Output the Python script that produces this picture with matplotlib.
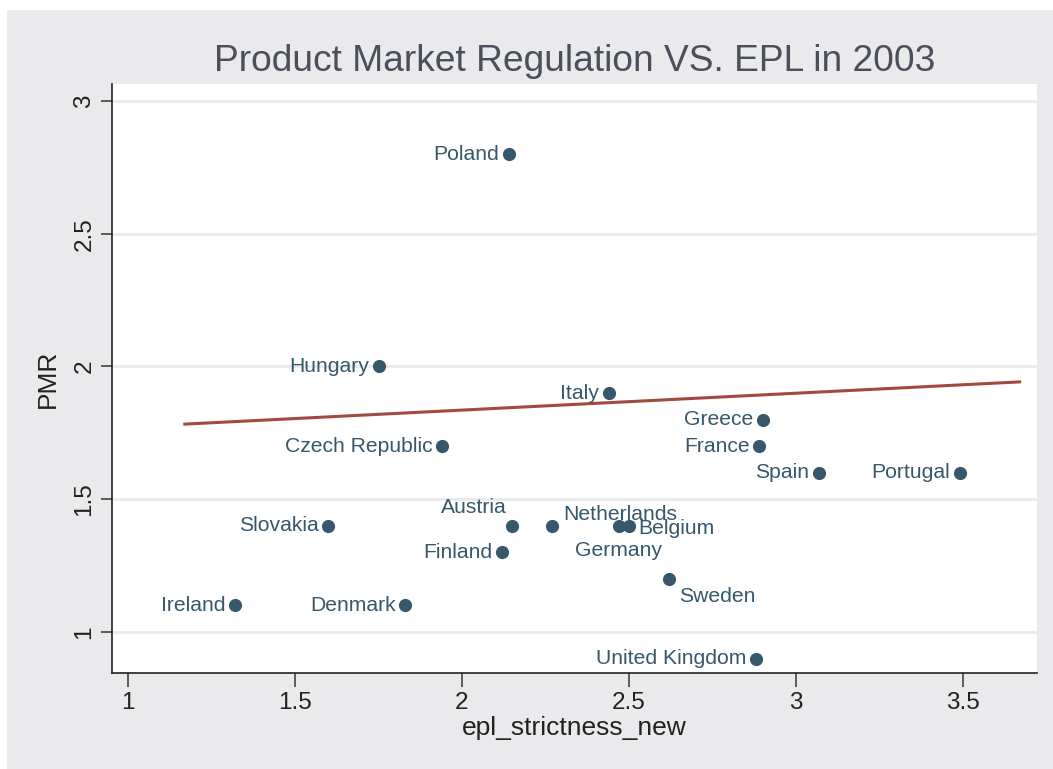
import matplotlib
matplotlib.use('Agg')
from matplotlib import pyplot as plt
from matplotlib.patches import Rectangle

# country data
countries = ['Poland', 'Hungary', 'Italy', 'Greece', 'France', 'Czech Republic',
             'Spain', 'Portugal', 'Slovakia', 'Austria', 'Netherlands', 'Germany',
             'Belgium', 'Finland', 'Sweden', 'Ireland', 'Denmark', 'United Kingdom']
epl = [2.14, 1.75, 2.44, 2.90, 2.89, 1.94,
       3.07, 3.49, 1.60, 2.15, 2.27, 2.47,
       2.50, 2.12, 2.62, 1.32, 1.83, 2.88]
pmr = [2.8, 2.0, 1.9, 1.8, 1.7, 1.7,
       1.6, 1.6, 1.4, 1.4, 1.4, 1.4,
       1.4, 1.3, 1.2, 1.1, 1.1, 0.9]

# fitted line end points
fit_x = [1.17, 3.67]
fit_y = [1.783, 1.942]

xticks = [1, 1.5, 2, 2.5, 3, 3.5]
yticks = [1, 1.5, 2, 2.5, 3]

# label placement (offset in points, ha, va), default is left of the marker
special = {
    'Austria': ((-4, 6), 'right', 'bottom'),
    'Netherlands': ((8, 8), 'left', 'center'),
    'Belgium': ((7, -2), 'left', 'center'),
    'Germany': ((0, -18), 'center', 'center'),
    'Sweden': ((7, -13), 'left', 'center'),
}

plt.rcParams['font.family'] = ['Liberation Sans', 'DejaVu Sans']

dot = '#37576b'
fig = plt.figure(figsize=(10.53, 7.69), dpi=100, facecolor='white')
fig.patches.append(Rectangle((7 / 1053, 0), 1, 1 - 10 / 769, transform=fig.transFigure,
                             facecolor='#eaeaec', edgecolor='none', zorder=-10))
ax = fig.add_axes([0.1064, 0.1248, 0.8784, 0.766])
ax.set_facecolor('white')

ax.plot(fit_x, fit_y, color='#a24a40', lw=2.2, zorder=2)
ax.scatter(epl, pmr, s=90, color=dot, zorder=3, linewidths=0)

for name, x, y in zip(countries, epl, pmr):
    off, ha, va = special.get(name, ((-7, 0), 'right', 'center'))
    ax.annotate(name, (x, y), xytext=off, textcoords='offset points',
                ha=ha, va=va, fontsize=15.2, color=dot, zorder=4)

ax.set_xlim(0.952, 3.722)
ax.set_ylim(0.8456, 3.064)
ax.set_xticks(xticks)
ax.set_xticklabels(['1', '1.5', '2', '2.5', '3', '3.5'])
ax.set_yticks(yticks)
ax.set_yticklabels(['1', '1.5', '2', '2.5', '3'], rotation=90, va='center')
ax.grid(axis='y', color='#eaeaea', lw=2)
ax.set_axisbelow(True)

for s in ['top', 'right']:
    ax.spines[s].set_visible(False)
for s in ['left', 'bottom']:
    ax.spines[s].set_color('#222222')
    ax.spines[s].set_linewidth(1.2)
ax.tick_params(axis='x', length=10, width=1.2, color='#444444', labelsize=17.5, labelcolor='#222222', pad=4)
ax.tick_params(axis='y', length=8, width=1.2, color='#444444', labelsize=17.5, labelcolor='#222222', pad=4)

ax.set_xlabel('epl_strictness_new', fontsize=19, color='#222222', labelpad=1)
ax.set_ylabel('PMR', fontsize=19, color='#222222', labelpad=10)
ax.set_title('Product Market Regulation VS. EPL in 2003', fontsize=26.7, color='#4a4f5a', pad=9)

plt.savefig('out.png', dpi=100, facecolor=fig.get_facecolor())
